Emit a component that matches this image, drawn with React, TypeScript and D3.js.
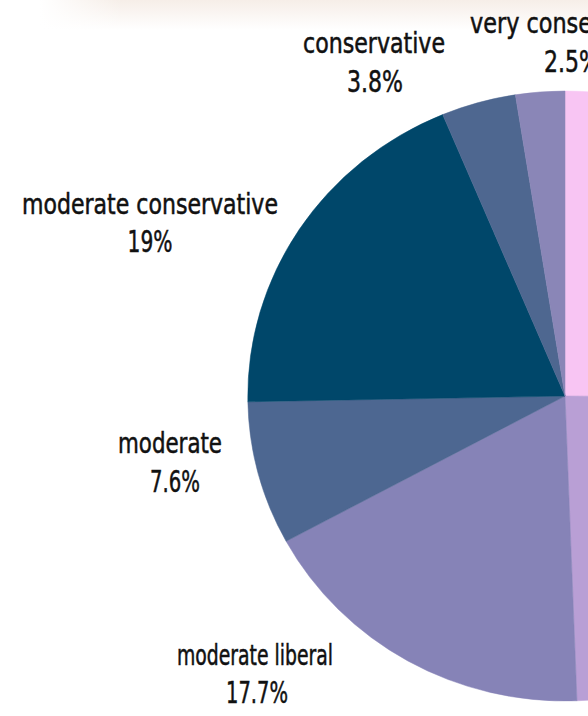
import React from "react";
import * as d3 from "d3";

// Slices listed clockwise from 12 o'clock
const categories = [
  "very liberal",
  "liberal",
  "moderate liberal",
  "moderate",
  "moderate conservative",
  "conservative",
  "very conservative",
];
const shares = [25.1, 24.3, 17.7, 7.6, 19, 3.8, 2.5];
const percentLabels = ["", "", "17.7%", "7.6%", "19%", "3.8%", "2.5%"];
const sliceColors = [
  "#f8c5f3",
  "#b99fd5",
  "#8683b7",
  "#4d6791",
  "#00476a",
  "#4e6790",
  "#8a86b7",
];

// label layout: [centerX, nameBaseline, nameWidth, pctCenterX, pctBaseline, pctWidth]
const labelLayout: Record<string, number[]> = {
  "moderate liberal": [255, 665, 156, 257, 703, 62],
  moderate: [170, 453, 104, 175, 492, 50],
  "moderate conservative": [150, 214, 256, 150, 252, 45],
  conservative: [374, 53, 142, 375, 92, 56],
  "very conservative": [570, 33, 200, 572, 72, 56],
};

const W = 588;
const H = 716;
const CX = 565;
const CY = 396;
const RY = 305;
const XSCALE = 1.04;
const FONT = "'Liberation Sans Narrow', 'DejaVu Sans Condensed', 'Liberation Sans', sans-serif";

export default function App() {
  const data = categories.map((c, i) => ({ name: c, value: shares[i], pct: percentLabels[i], color: sliceColors[i] }));
  const pie = d3
    .pie<any>()
    .sort(null)
    .value((d: any) => d.value)
    .startAngle(0)
    .endAngle(2 * Math.PI);
  const arcs = pie(data);
  const arc = d3.arc<any>().innerRadius(0).outerRadius(RY);

  return (
    <svg
      width={W}
      height={H}
      style={{ position: "absolute", left: 0, top: 0, background: "#ffffff" }}
    >
      <defs>
        <linearGradient id="topTex" x1="0" y1="0" x2="0" y2="1">
          <stop offset="0" stopColor="#f3e8e0" stopOpacity="0.75" />
          <stop offset="1" stopColor="#f3e8e0" stopOpacity="0" />
        </linearGradient>
        <linearGradient id="topTexH" x1="0" y1="0" x2="1" y2="0">
          <stop offset="0" stopColor="#fff" stopOpacity="1" />
          <stop offset="0.15" stopColor="#fff" stopOpacity="0" />
        </linearGradient>
      </defs>
      <rect x={0} y={0} width={W} height={H} fill="#ffffff" />
      <rect x={40} y={0} width={W - 40} height={30} fill="url(#topTex)" />
      <rect x={40} y={0} width={W - 40} height={30} fill="url(#topTexH)" />
      <g transform={`translate(${CX},${CY}) scale(${XSCALE},1)`}>
        {arcs.map((a, i) => (
          <path key={i} d={arc(a) as string} fill={a.data.color} stroke={a.data.color} strokeWidth={0.5} />
        ))}
      </g>
      <g fontFamily={FONT} fill="#111" stroke="#111" strokeWidth={0.5}>
        {data.map((d) => {
          const l = labelLayout[d.name];
          if (!l) return null;
          return (
            <g key={d.name}>
              <text
                x={l[0]}
                y={l[1]}
                textAnchor="middle"
                fontSize={28}
                textLength={l[2]}
                lengthAdjust="spacingAndGlyphs"
              >
                {d.name}
              </text>
              <text
                x={l[3]}
                y={l[4]}
                textAnchor="middle"
                fontSize={31}
                textLength={l[5]}
                lengthAdjust="spacingAndGlyphs"
              >
                {d.pct}
              </text>
            </g>
          );
        })}
      </g>
    </svg>
  );
}
